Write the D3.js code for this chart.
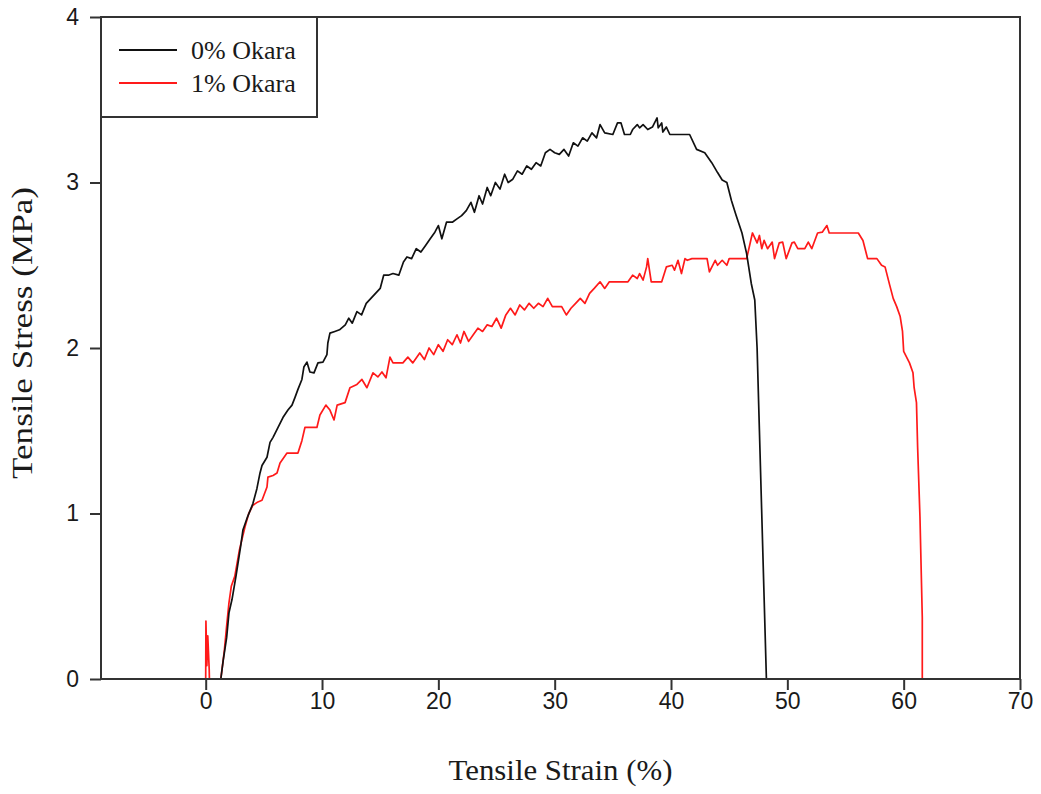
<!DOCTYPE html>
<html>
<head>
<meta charset="utf-8">
<script src="https://cdn.jsdelivr.net/npm/d3@7"></script>
<style>
    body { margin: 0; background: #fff; }
    svg { display: block; }
    .tick text { font-family: "Liberation Sans", Arial, sans-serif; font-size: 23px; fill: #1a1a1a; }
    .title { font-family: "Liberation Serif", "Times New Roman", serif; fill: #1a1a1a; }
</style>
</head>
<body>
<svg id="chart" width="1041" height="794"></svg>
<script>
// tensile curves (strain %, stress MPa)
const strain0 = [1.3, 1.5, 1.8, 2.0, 2.26, 2.6, 3.0, 3.2, 3.6, 4.06, 4.4, 4.67, 4.84, 5.27, 5.53, 5.79, 6.22, 6.64, 7.07, 7.42,
    7.67, 7.93, 8.27, 8.44, 8.7, 8.96, 9.31, 9.65, 10.08, 10.42, 10.5, 10.68, 11.1, 11.5, 12.0, 12.3, 12.6, 13.0, 13.4, 13.8,
    14.2, 14.6, 15.0, 15.3, 15.7, 16.1, 16.6, 17.0, 17.3, 17.7, 18.1, 18.5, 18.9, 19.3, 19.7, 20.0, 20.3, 20.7, 21.2, 21.6,
    22.0, 22.4, 22.8, 23.1, 23.5, 23.8, 24.2, 24.5, 24.9, 25.3, 25.7, 26.0, 26.4, 26.8, 27.2, 27.6, 28.0, 28.4, 28.8, 29.2,
    29.6, 30.0, 30.4, 30.8, 31.2, 31.6, 32.0, 32.4, 32.8, 33.2, 33.6, 33.9, 34.3, 35.0, 35.4, 35.7, 36.0, 36.5, 36.7, 37.1,
    37.3, 37.6, 38.0, 38.4, 38.8, 38.9, 39.2, 39.3, 39.6, 39.9, 41.6, 42.2, 42.9, 43.5, 44.0, 44.4, 44.8, 45.2, 45.6, 46.1,
    46.5, 46.9, 47.2, 47.4, 47.6, 47.8, 48.0, 48.2];
const stress0 = [0, 0.11, 0.25, 0.4, 0.48, 0.62, 0.8, 0.9, 0.98, 1.06, 1.15, 1.245, 1.29, 1.34, 1.43, 1.46, 1.52, 1.58, 1.625, 1.655,
    1.7, 1.75, 1.81, 1.885, 1.915, 1.855, 1.85, 1.91, 1.915, 1.96, 2.03, 2.09, 2.1, 2.11, 2.14, 2.18, 2.15, 2.22, 2.2, 2.27,
    2.3, 2.33, 2.36, 2.44, 2.44, 2.45, 2.44, 2.52, 2.55, 2.54, 2.6, 2.58, 2.62, 2.66, 2.7, 2.74, 2.66, 2.76, 2.76, 2.78,
    2.8, 2.83, 2.88, 2.82, 2.92, 2.87, 2.97, 2.92, 3.0, 2.96, 3.05, 3.0, 3.02, 3.07, 3.05, 3.1, 3.08, 3.12, 3.1, 3.18,
    3.2, 3.18, 3.17, 3.2, 3.16, 3.24, 3.22, 3.27, 3.25, 3.3, 3.27, 3.35, 3.3, 3.29, 3.36, 3.36, 3.29, 3.29, 3.32, 3.35,
    3.33, 3.35, 3.32, 3.335, 3.39, 3.33, 3.36, 3.305, 3.335, 3.29, 3.29, 3.2, 3.18, 3.12, 3.06, 3.015, 3.0, 2.89, 2.8, 2.695,
    2.57, 2.39, 2.29, 2.0, 1.5, 1.0, 0.5, 0];

const strain1 = [0, 0.02, 0.1, 0.18, 0.3, 0.32, 1.3, 1.6, 1.8, 2.0, 2.2, 2.5, 2.9, 3.38, 3.7, 4.06, 4.49, 4.84, 5.27, 5.35,
    5.79, 6.13, 6.39, 6.99, 7.93, 8.27, 8.53, 9.56, 9.82, 10.33, 10.68, 11.03, 11.3, 11.98, 12.4, 13.0, 13.43, 13.86, 14.38, 14.8,
    15.15, 15.5, 15.84, 16.1, 16.95, 17.38, 17.8, 18.4, 18.8, 19.2, 19.6, 20.0, 20.4, 20.8, 21.2, 21.6, 21.9, 22.2, 22.6, 23.0,
    23.4, 23.8, 24.2, 24.6, 25.0, 25.4, 25.8, 26.2, 26.6, 27.0, 27.4, 27.8, 28.2, 28.6, 29.0, 29.4, 29.8, 30.2, 30.6, 31.0,
    31.4, 31.8, 32.2, 32.6, 33.0, 33.4, 33.9, 34.3, 34.7, 36.3, 36.7, 37.1, 37.3, 37.6, 37.9, 38.0, 38.3, 39.2, 39.6, 40.1,
    40.3, 40.6, 40.9, 41.2, 41.4, 41.8, 42.5, 43.1, 43.3, 43.8, 44.0, 44.4, 44.8, 45.0, 46.5, 47.0, 47.4, 47.6, 47.8, 48.0,
    48.3, 48.7, 48.9, 49.3, 49.6, 49.9, 50.4, 50.6, 50.9, 51.5, 51.8, 52.1, 52.6, 53.0, 53.4, 53.6, 56.1, 56.5, 56.9, 57.7,
    58.1, 58.4, 58.8, 59.1, 59.4, 59.7, 59.9, 60.0, 60.5, 60.8, 60.9, 61.1, 61.2, 61.4, 61.6, 61.6];
const stress1 = [0, 0.35, 0.08, 0.26, 0.06, 0, 0, 0.17, 0.32, 0.46, 0.56, 0.62, 0.78, 0.92, 1.0, 1.05, 1.07, 1.08, 1.16, 1.22,
    1.23, 1.245, 1.305, 1.365, 1.365, 1.44, 1.52, 1.52, 1.595, 1.655, 1.625, 1.565, 1.655, 1.67, 1.76, 1.78, 1.81, 1.76, 1.85, 1.825,
    1.855, 1.82, 1.945, 1.91, 1.91, 1.945, 1.91, 1.97, 1.93, 2.0, 1.96, 2.02, 1.98, 2.05, 2.02, 2.08, 2.03, 2.1, 2.04, 2.08,
    2.12, 2.1, 2.14, 2.13, 2.18, 2.12, 2.2, 2.24, 2.2, 2.26, 2.23, 2.27, 2.24, 2.27, 2.25, 2.3, 2.25, 2.25, 2.25, 2.2,
    2.24, 2.27, 2.3, 2.27, 2.33, 2.36, 2.4, 2.36, 2.4, 2.4, 2.44, 2.42, 2.45, 2.41, 2.49, 2.54, 2.4, 2.4, 2.49, 2.5,
    2.47, 2.53, 2.45, 2.54, 2.53, 2.54, 2.54, 2.54, 2.46, 2.53, 2.5, 2.53, 2.5, 2.54, 2.54, 2.695, 2.635, 2.68, 2.6, 2.65,
    2.6, 2.64, 2.54, 2.635, 2.64, 2.54, 2.635, 2.64, 2.6, 2.6, 2.64, 2.6, 2.695, 2.7, 2.74, 2.695, 2.695, 2.65, 2.54, 2.54,
    2.5, 2.49, 2.38, 2.3, 2.25, 2.19, 2.1, 1.98, 1.91, 1.85, 1.76, 1.67, 1.4, 0.98, 0.37, 0];

const seriesNames = ["0% Okara", "1% Okara"];
const seriesColors = ["#111", "#ff1a1a"];
const xTicks = [0, 10, 20, 30, 40, 50, 60, 70];
const yTicks = [0, 1, 2, 3, 4];

const margin = {top: 17, right: 21, bottom: 115, left: 101};
const width = 1041 - margin.left - margin.right;
const height = 794 - margin.top - margin.bottom;

const svg = d3.select("#chart");
const g = svg.append("g").attr("transform", `translate(${margin.left},${margin.top})`);

const x = d3.scaleLinear().domain([-9, 70]).range([0, width]);
const y = d3.scaleLinear().domain([0, 4]).range([height, 0]);

const line = d3.line()
    .x(d => x(d[0]))
    .y(d => y(d[1]));

const series = [
    d3.zip(strain0, stress0),
    d3.zip(strain1, stress1)
];

// red goes under, black on top
g.selectAll(".curve")
    .data([1, 0])
    .join("path")
    .attr("class", "curve")
    .attr("d", i => line(series[i]))
    .attr("fill", "none")
    .attr("stroke", i => seriesColors[i])
    .attr("stroke-width", 1.7)
    .attr("stroke-linejoin", "round");

// axes
const xAxis = g.append("g")
    .attr("transform", `translate(0,${height})`)
    .call(d3.axisBottom(x).tickValues(xTicks).tickSize(11).tickSizeOuter(0).tickPadding(3));
const yAxis = g.append("g")
    .call(d3.axisLeft(y).tickValues(yTicks).tickFormat(d3.format("d")).tickSize(11).tickSizeOuter(0).tickPadding(11));

[xAxis, yAxis].forEach(a => {
    a.select(".domain").remove();
    a.selectAll(".tick line").attr("stroke", "#333").attr("stroke-width", 2);
});

// frame
g.append("rect")
    .attr("x", 0).attr("y", 0)
    .attr("width", width).attr("height", height)
    .attr("fill", "none")
    .attr("stroke", "#333")
    .attr("stroke-width", 2);

// axis titles (the source picture is a bit stretched, so fit the text lengths)
svg.append("text")
    .attr("class", "title")
    .attr("x", margin.left + width / 2)
    .attr("y", 780)
    .attr("text-anchor", "middle")
    .attr("font-size", 29)
    .attr("textLength", 224)
    .attr("lengthAdjust", "spacingAndGlyphs")
    .text("Tensile Strain (%)");

svg.append("text")
    .attr("class", "title")
    .attr("transform", `translate(32,${margin.top + height / 2 - 15}) rotate(-90)`)
    .attr("text-anchor", "middle")
    .attr("font-size", 29)
    .attr("textLength", 292)
    .attr("lengthAdjust", "spacingAndGlyphs")
    .text("Tensile Stress (MPa)");

// legend
const legend = g.append("g");
legend.append("rect")
    .attr("x", 0).attr("y", 0)
    .attr("width", 216).attr("height", 100)
    .attr("fill", "#fff")
    .attr("stroke", "#333")
    .attr("stroke-width", 2);

const items = legend.selectAll(".item")
    .data(seriesNames)
    .join("g")
    .attr("class", "item")
    .attr("transform", (d, i) => `translate(0,${33 + i * 33})`);

items.append("line")
    .attr("x1", 18).attr("x2", 76)
    .attr("stroke", (d, i) => seriesColors[i])
    .attr("stroke-width", 2);

items.append("text")
    .attr("class", "title")
    .attr("x", 90)
    .attr("y", 9)
    .attr("font-size", 26)
    .text(d => d);
</script>
</body>
</html>
